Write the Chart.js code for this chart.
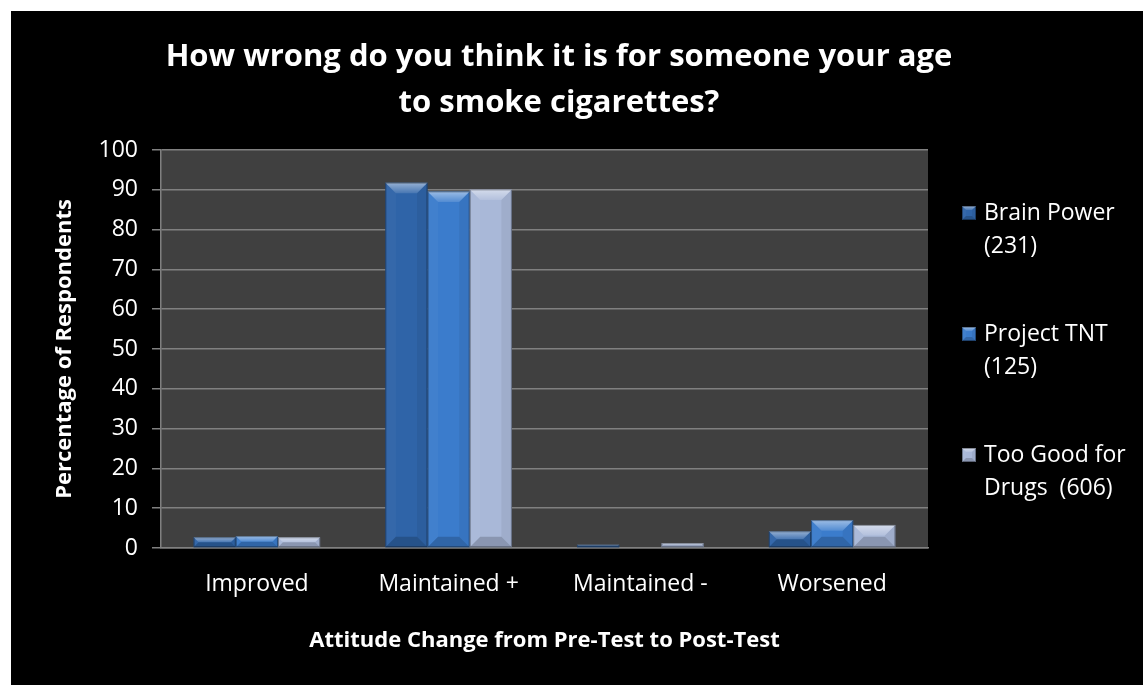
<!DOCTYPE html>
<html lang="en">
  <head>
    <meta charset="UTF-8" />
    <title>How wrong do you think it is for someone your age to smoke cigarettes?</title>
    <script src="https://cdn.jsdelivr.net/npm/chart.js@4.4.1/dist/chart.umd.min.js"></script>
    <style>
      body {
        margin: 0;
        background: #ffffff;
        font-family: "Open Sans", sans-serif;
      }
      .frame {
        position: absolute;
        left: 11px;
        top: 11px;
        width: 1132px;
        height: 674px;
        background: #000000;
      }
    </style>
  </head>
  <body>
    <div class="frame">
      <canvas id="chart"></canvas>
    </div>

    <script>
      // Data
      const categories = ["Improved", "Maintained +", "Maintained -", "Worsened"];
      const seriesNames = ["Brain Power (231)", "Project TNT (125)", "Too Good for Drugs  (606)"];
      const legendLines = [
        ["Brain Power", "(231)"],
        ["Project TNT", "(125)"],
        ["Too Good for", "Drugs  (606)"],
      ];
      const brainPower = [2.7, 91.8, 0.8, 4.2];
      const projectTNT = [3.0, 89.6, 0, 7.0];
      const tooGood = [2.7, 90.1, 1.2, 5.8];
      const titleLines = [
        "How wrong do you think it is for someone your age",
        "to smoke cigarettes?",
      ];

      const fills = ["#2f64a8", "#3b7ccc", "#a9b8d8"];
      const edges = ["#1f4677", "#285b9c", "#7c8aa8"];

      // plot background + title + legend drawn on the canvas
      const decor = {
        id: "decor",
        beforeDraw(chart) {
          const { ctx, chartArea: a } = chart;
          ctx.save();
          ctx.fillStyle = "#404040";
          ctx.fillRect(a.left, a.top, a.right - a.left, a.bottom - a.top);
          ctx.restore();
        },
        afterDraw(chart) {
          const ctx = chart.ctx;
          ctx.save();
          ctx.fillStyle = "#ffffff";
          ctx.textAlign = "center";
          ctx.textBaseline = "middle";
          ctx.font = "bold 31px 'Open Sans'";
          ctx.fillText(titleLines[0], 548, 46);
          ctx.fillText(titleLines[1], 548, 92);

          ctx.font = "23px 'Open Sans'";
          ctx.textAlign = "left";
          legendLines.forEach((lines, i) => {
            const y = 202 + i * 121;
            bevel(ctx, 951, y - 7, 14, 14, fills[i], 4);
            ctx.fillStyle = "#ffffff";
            ctx.fillText(lines[0], 973, y);
            ctx.fillText(lines[1], 973, y + 33);
          });
          ctx.restore();
        },
      };

      function bevel(ctx, l, t, w, h, color, d) {
        const r = l + w, b = t + h;
        ctx.save();
        ctx.fillStyle = color;
        ctx.fillRect(l, t, w, h);
        // top facet
        const g = ctx.createLinearGradient(0, t, 0, t + d);
        g.addColorStop(0, "rgba(255,255,255,0.5)");
        g.addColorStop(1, "rgba(255,255,255,0.12)");
        ctx.fillStyle = g;
        ctx.beginPath();
        ctx.moveTo(l, t); ctx.lineTo(r, t); ctx.lineTo(r - d, t + d); ctx.lineTo(l + d, t + d);
        ctx.closePath(); ctx.fill();
        // left facet
        ctx.fillStyle = "rgba(255,255,255,0.03)";
        ctx.beginPath();
        ctx.moveTo(l, t); ctx.lineTo(l + d, t + d); ctx.lineTo(l + d, b - d); ctx.lineTo(l, b);
        ctx.closePath(); ctx.fill();
        // right facet
        ctx.fillStyle = "rgba(0,0,0,0.06)";
        ctx.beginPath();
        ctx.moveTo(r, t); ctx.lineTo(r - d, t + d); ctx.lineTo(r - d, b - d); ctx.lineTo(r, b);
        ctx.closePath(); ctx.fill();
        // bottom facet
        ctx.fillStyle = "rgba(0,0,0,0.18)";
        ctx.beginPath();
        ctx.moveTo(l, b); ctx.lineTo(l + d, b - d); ctx.lineTo(r - d, b - d); ctx.lineTo(r, b);
        ctx.closePath(); ctx.fill();
        ctx.strokeStyle = "rgba(0,0,0,0.35)";
        ctx.lineWidth = 1;
        ctx.strokeRect(l + 0.5, t + 0.5, w - 1, h - 1);
        ctx.restore();
      }

      // bevel look on top of every bar, using the bar elements' geometry
      const barBevel = {
        id: "barBevel",
        afterDatasetsDraw(chart) {
          const ctx = chart.ctx;
          chart.data.datasets.forEach((ds, i) => {
            chart.getDatasetMeta(i).data.forEach((bar) => {
              const p = bar.getProps(["x", "y", "base", "width"], true);
              const t = Math.min(p.y, p.base), b = Math.max(p.y, p.base);
              const h = b - t;
              if (h < 1) return;
              const d = Math.min(11, h / 2, p.width / 4);
              bevel(ctx, p.x - p.width / 2, t, p.width, h, fills[i], d);
            });
          });
        },
      };

      const axisFont = { family: "'Open Sans'", size: 23 };

      new Chart(document.getElementById("chart"), {
        type: "bar",
        data: {
          labels: categories,
          datasets: [
            { label: seriesNames[0], data: brainPower, backgroundColor: fills[0], borderColor: edges[0], borderWidth: 1 },
            { label: seriesNames[1], data: projectTNT, backgroundColor: fills[1], borderColor: edges[1], borderWidth: 1 },
            { label: seriesNames[2], data: tooGood, backgroundColor: fills[2], borderColor: edges[2], borderWidth: 1 },
          ],
        },
        options: {
          responsive: true,
          maintainAspectRatio: false,
          animation: false,
          layout: { padding: { top: 139, right: 215, left: 0, bottom: 0 } },
          datasets: { bar: { categoryPercentage: 0.66, barPercentage: 1 } },
          plugins: {
            legend: { display: false },
            title: { display: false },
            tooltip: { enabled: false },
          },
          scales: {
            x: {
              afterFit(scale) { scale.height = 137; },
              grid: { display: false, drawTicks: false },
              border: { display: true, color: "#808080", width: 1.5 },
              ticks: { color: "#ffffff", font: axisFont, padding: 23 },
              title: {
                display: true,
                text: "Attitude Change from Pre-Test to Post-Test",
                color: "#ffffff",
                font: { family: "'Open Sans'", size: 22, weight: "bold" },
                padding: { bottom: 31 },
              },
            },
            y: {
              min: 0,
              max: 100,
              afterFit(scale) { scale.width = 150; },
              grid: { color: "#808080", lineWidth: 1.5, tickLength: 9 },
              border: { display: true, color: "#808080", width: 1.5 },
              ticks: { stepSize: 10, color: "#ffffff", font: axisFont, padding: 14 },
              title: {
                display: true,
                text: "Percentage of Respondents",
                color: "#ffffff",
                font: { family: "'Open Sans'", size: 22, weight: "bold" },
                padding: { top: 41 },
              },
            },
          },
        },
        plugins: [decor, barBevel],
      });
    </script>
  </body>
</html>
